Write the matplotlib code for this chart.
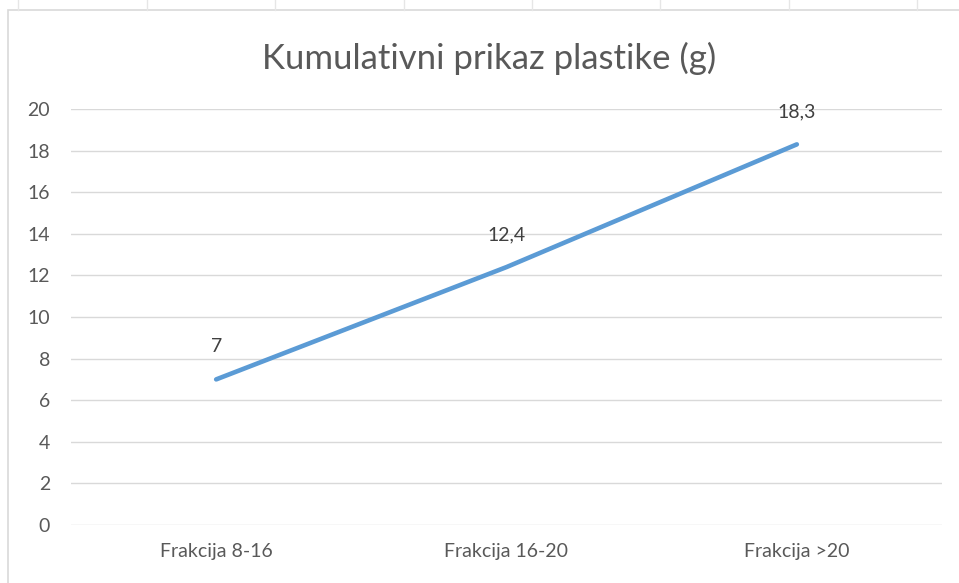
import matplotlib

matplotlib.use("Agg")
import matplotlib.pyplot as plt
from matplotlib.patches import Rectangle
from matplotlib.lines import Line2D

categories = ["Frakcija 8-16", "Frakcija 16-20", "Frakcija >20"]
values = [7, 12.4, 18.3]
value_labels = ["7", "12,4", "18,3"]
y_ticks = [0, 2, 4, 6, 8, 10, 12, 14, 16, 18, 20]

W, H = 959, 583
plt.rcParams["font.family"] = ["Lato", "DejaVu Sans"]
text_gray = "#595959"

fig = plt.figure(figsize=(W / 100, H / 100), dpi=100)

# spreadsheet cell lines peeking above the chart, and the chart border
for x in [18, 147, 275, 404, 532, 660, 789, 917]:
    fig.add_artist(Line2D([x / W, x / W], [1, 1 - 10 / H], color="#E6E6E6", lw=1))
fig.add_artist(Rectangle((8 / W, -0.1), 1.2, 1 - 10 / H + 0.1, transform=fig.transFigure,
                         fill=False, edgecolor="#D9D9D9", lw=1.2))

ax = fig.add_axes([71 / W, (H - 525) / H, (942 - 71) / W, (525 - 109) / H])
x = list(range(len(categories)))
ax.plot(x, values, color="#5B9BD5", lw=3.3, solid_capstyle="round")
for xi, v, lab in zip(x, values, value_labels):
    ax.annotate(lab, (xi, v), xytext=(0, 23.5), textcoords="offset points",
                ha="center", va="center", fontsize=14, color="#404040")

ax.set_xlim(-0.5, 2.5)
ax.set_ylim(0, 20)
ax.set_yticks(y_ticks)
ax.set_yticklabels([str(t) for t in y_ticks])
ax.set_xticks(x)
ax.set_xticklabels(categories)
ax.grid(axis="y", color="#D9D9D9", lw=1)
ax.set_axisbelow(True)
for s in ax.spines.values():
    s.set_visible(False)
ax.tick_params(axis="both", length=0, labelsize=14, labelcolor=text_gray)
ax.tick_params(axis="y", pad=15)
ax.tick_params(axis="x", pad=13)

fig.text(489 / W, 1 - 58 / H, "Kumulativni prikaz plastike (g)", ha="center", va="center",
         fontsize=25, color=text_gray)

fig.savefig("out.png", dpi=100)
